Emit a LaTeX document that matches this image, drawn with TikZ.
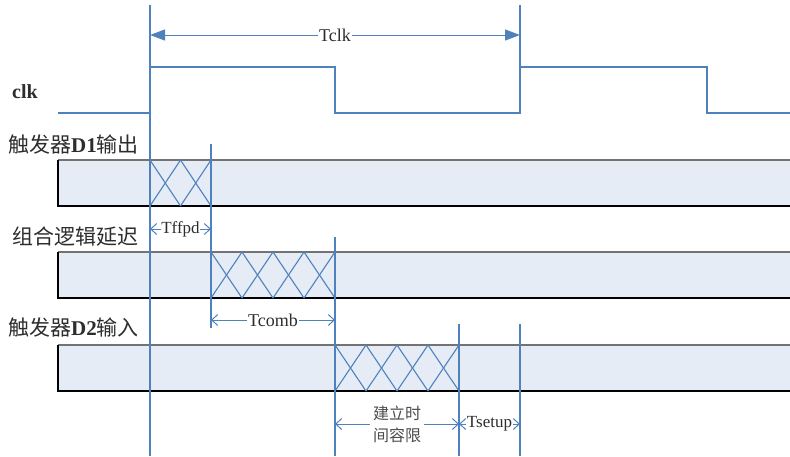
\documentclass[tikz,border=0pt]{standalone}
\usepackage{fontspec}
\setmainfont{Liberation Serif}
\newfontfamily\cjk{Noto Sans CJK SC}
\usetikzlibrary{arrows.meta, calc}
\definecolor{wblue}{RGB}{79,129,189}
\definecolor{wfill}{RGB}{229,236,246}
\definecolor{wtext}{RGB}{45,45,45}

\begin{document}
\begin{tikzpicture}[
		% pixel grid, y downwards
		x=1pt, y=-1pt,
		% styles
		sig/.style={draw=wblue, line width=1.3pt},
		edgeline/.style={draw=wblue, line width=1.3pt},
		xing/.style={draw=wblue, line width=1.1pt},
		dim/.style={draw=wblue, line width=1pt, {Straight Barb[length=6pt,width=11pt]}-{Straight Barb[length=6pt,width=11pt]}},
		period/.style={draw=wblue, line width=1pt, {Triangle[length=15pt,width=11pt]}-{Triangle[length=15pt,width=11pt]}},
		rowlbl/.style={font=\fontsize{21}{24}\selectfont\cjk, text=wtext, anchor=west, inner sep=0pt},
		dimlbl/.style={font=\fontsize{18}{20}\selectfont, text=wtext, fill=white, inner sep=1pt},
		bar/.style={fill=wfill}
		]
		\useasboundingbox (0,0) rectangle (790,456);
		
		% ==========================================
		% clock edges
		% ==========================================
		\coordinate (e0) at (150,0);
		\coordinate (e1) at (211,0);
		\coordinate (e2) at (335,0);
		\coordinate (e3) at (459,0);
		\coordinate (e4) at (520,0);
		
		% ==========================================
		% signal bars
		% ==========================================
		\foreach \top/\bot in {160/206, 252/298, 345/391}{
			\fill[bar] (58,\top) rectangle (790,\bot);
			\draw[black!55, line width=1.5pt] (790,\top) -- (58,\top);
			\draw[black, line width=1.3pt] (58,\top) -- (58,\bot) -- (790,\bot);
		}
		
		% D1 output: uncertain 150..211
		\foreach \i in {0,1}{
			\draw[xing] ($(e0)+(\i*30.5,160)$) -- ($(e0)+(\i*30.5+30.5,206)$);
			\draw[xing] ($(e0)+(\i*30.5,206)$) -- ($(e0)+(\i*30.5+30.5,160)$);
		}
		% comb logic: uncertain 211..335
		\foreach \i in {0,...,3}{
			\draw[xing] ($(e1)+(\i*31,252)$) -- ($(e1)+(\i*31+31,298)$);
			\draw[xing] ($(e1)+(\i*31,298)$) -- ($(e1)+(\i*31+31,252)$);
		}
		% D2 input: uncertain 335..459
		\foreach \i in {0,...,3}{
			\draw[xing] ($(e2)+(\i*31,345)$) -- ($(e2)+(\i*31+31,391)$);
			\draw[xing] ($(e2)+(\i*31,391)$) -- ($(e2)+(\i*31+31,345)$);
		}
		
		% ==========================================
		% clock waveform + guide lines
		% ==========================================
		\draw[sig] (58,113) -- (150,113) -- (150,67) -- (335,67) -- (335,113)
		-- (520,113) -- (520,67) -- (707,67) -- (707,113) -- (790,113);
		
		\draw[edgeline] ($(e0)+(0,5)$) -- ($(e0)+(0,456)$);
		\draw[edgeline] ($(e4)+(0,5)$) -- ($(e4)+(0,67)$);
		\draw[edgeline] ($(e1)+(0,144)$) -- ($(e1)+(0,328)$);
		\draw[edgeline] ($(e2)+(0,237)$) -- ($(e2)+(0,456)$);
		\draw[edgeline] ($(e3)+(0,324)$) -- ($(e3)+(0,456)$);
		\draw[edgeline] ($(e4)+(0,324)$) -- ($(e4)+(0,456)$);
		
		% ==========================================
		% dimensions
		% ==========================================
		\draw[period] ($(e0)+(0,35)$) -- node[dimlbl] (tclk) {Tclk} ($(e4)+(0,35)$);
		\draw[dim] ($(e0)+(0,229)$) -- node[dimlbl, font=\fontsize{17}{20}\selectfont, inner sep=0.5pt] (tffpd) {Tffpd} ($(e1)+(0,229)$);
		\draw[dim] ($(e1)+(0,320)$) -- node[dimlbl] (tcomb) {Tcomb} ($(e2)+(0,320)$);
		\draw[dim] ($(e2)+(0,424)$) -- node[dimlbl, align=center, font=\fontsize{16}{22}\selectfont\cjk, text=black!70, inner sep=3pt] (margin) {建立时\\间容限} ($(e3)+(0,424)$);
		\draw[dim] ($(e3)+(0,424)$) -- node[dimlbl, font=\fontsize{17}{20}\selectfont, inner sep=0.5pt] (tsetup) {Tsetup} ($(e4)+(0,424)$);
		
		% ==========================================
		% row labels
		% ==========================================
		\node[rowlbl, font=\fontsize{20}{22}\selectfont\bfseries] (clklbl) at (12,92) {clk};
		\node[rowlbl] (d1lbl) at (8,145) {触发器\textbf{\rmfamily D1}输出};
		\node[rowlbl] (comblbl) at (12,237) {组合逻辑延迟};
		\node[rowlbl] (d2lbl) at (8,328) {触发器\textbf{\rmfamily D2}输入};
		
	\end{tikzpicture}
\end{document}
